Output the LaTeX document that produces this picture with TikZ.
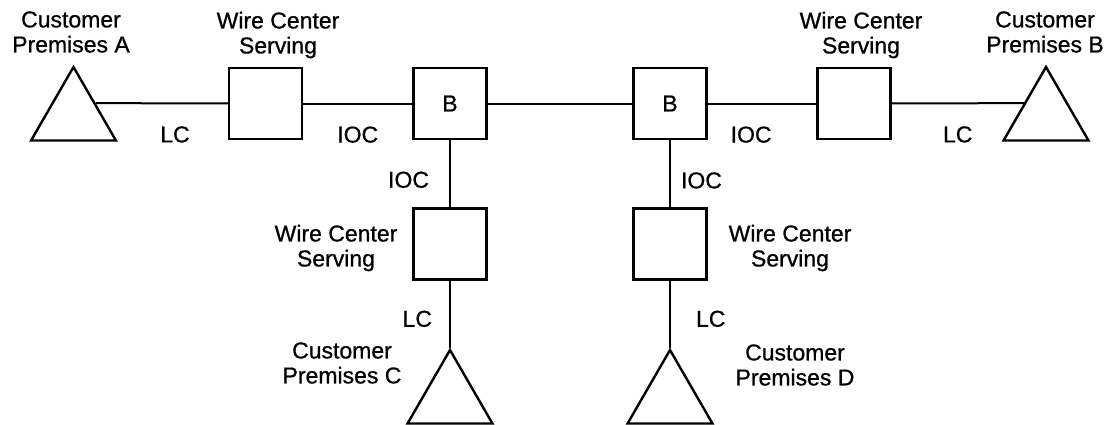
\documentclass[tikz,border=0pt]{standalone}
\usepackage{fontspec}
\setmainfont{Liberation Sans}
\newfontfamily\scanfont[FakeBold=0.8]{Liberation Sans}
\usetikzlibrary{shapes.geometric}

\begin{document}
\begin{tikzpicture}[x=1pt, y=-1pt, line width=2pt,
        every node/.append style={font=\scanfont\fontsize{23}{25}\selectfont}]
      \tikzstyle{site} = [draw, line width=2.4pt, regular polygon, regular polygon sides=3, minimum size=98pt, inner sep=0pt]
      \tikzstyle{office} = [draw, line width=2.4pt, rectangle, minimum width=73pt, minimum height=71pt, inner sep=0pt]
      \tikzstyle{word} = [align=center, inner sep=0pt]
      \useasboundingbox (0,0) rectangle (1115,424);
      % offices along the trunk
      \node (wireA) [office] at (265.5,103.5) {};
      \node (hubA) [office] at (450,103.5) {B};
      \node (hubB) [office] at (670,103.5) {B};
      \node (wireB) [office] at (854,103.5) {};
      \node (wireC) [office] at (450,244) {};
      \node (wireD) [office] at (670,244) {};
      % customer sites
      \node (triA) [site] at (73.5,116) {};
      \node (triB) [site] at (1046,116) {};
      \node (triC) [site] at (450,399) {};
      \node (triD) [site] at (670,399) {};
      % names
      \node (custA) [word] at (71,32) {Customer\\Premises A};
      \node (servA) [word] at (278,35) {Wire Center\\Serving};
      \node (servB) [word] at (861,35) {Wire Center\\Serving};
      \node (custB) [word] at (1045,32) {Customer\\Premises B};
      \node (servC) [word] at (336,248) {Wire Center\\Serving};
      \node (servD) [word] at (790,248) {Wire Center\\Serving};
      \node (custC) [word] at (342,363) {Customer\\Premises C};
      \node (custD) [word] at (795,365) {Customer\\Premises D};
      % circuits
      \draw (triA.side 3) -- node [word, pos=0.6, below=22pt] {LC} (wireA);
      \draw (wireA) -- node [word, below=22pt] {IOC} (hubA);
      \draw (hubA) -- (hubB);
      \draw (hubB) -- node [word, pos=0.4, below=22pt] {IOC} (wireB);
      \draw (wireB) -- node [word, below=22pt] {LC} (triB.side 1);
      \draw (hubA) -- node [word, pos=0.59, left=20pt] {IOC} (wireC);
      \draw (hubB) -- node [word, pos=0.6, right=10pt] {IOC} (wireD);
      \draw (wireC) -- node [word, pos=0.57, left=17pt] {LC} (triC.corner 1);
      \draw (wireD) -- node [word, pos=0.57, right=25pt] {LC} (triD.corner 1);
    \end{tikzpicture}
\end{document}
